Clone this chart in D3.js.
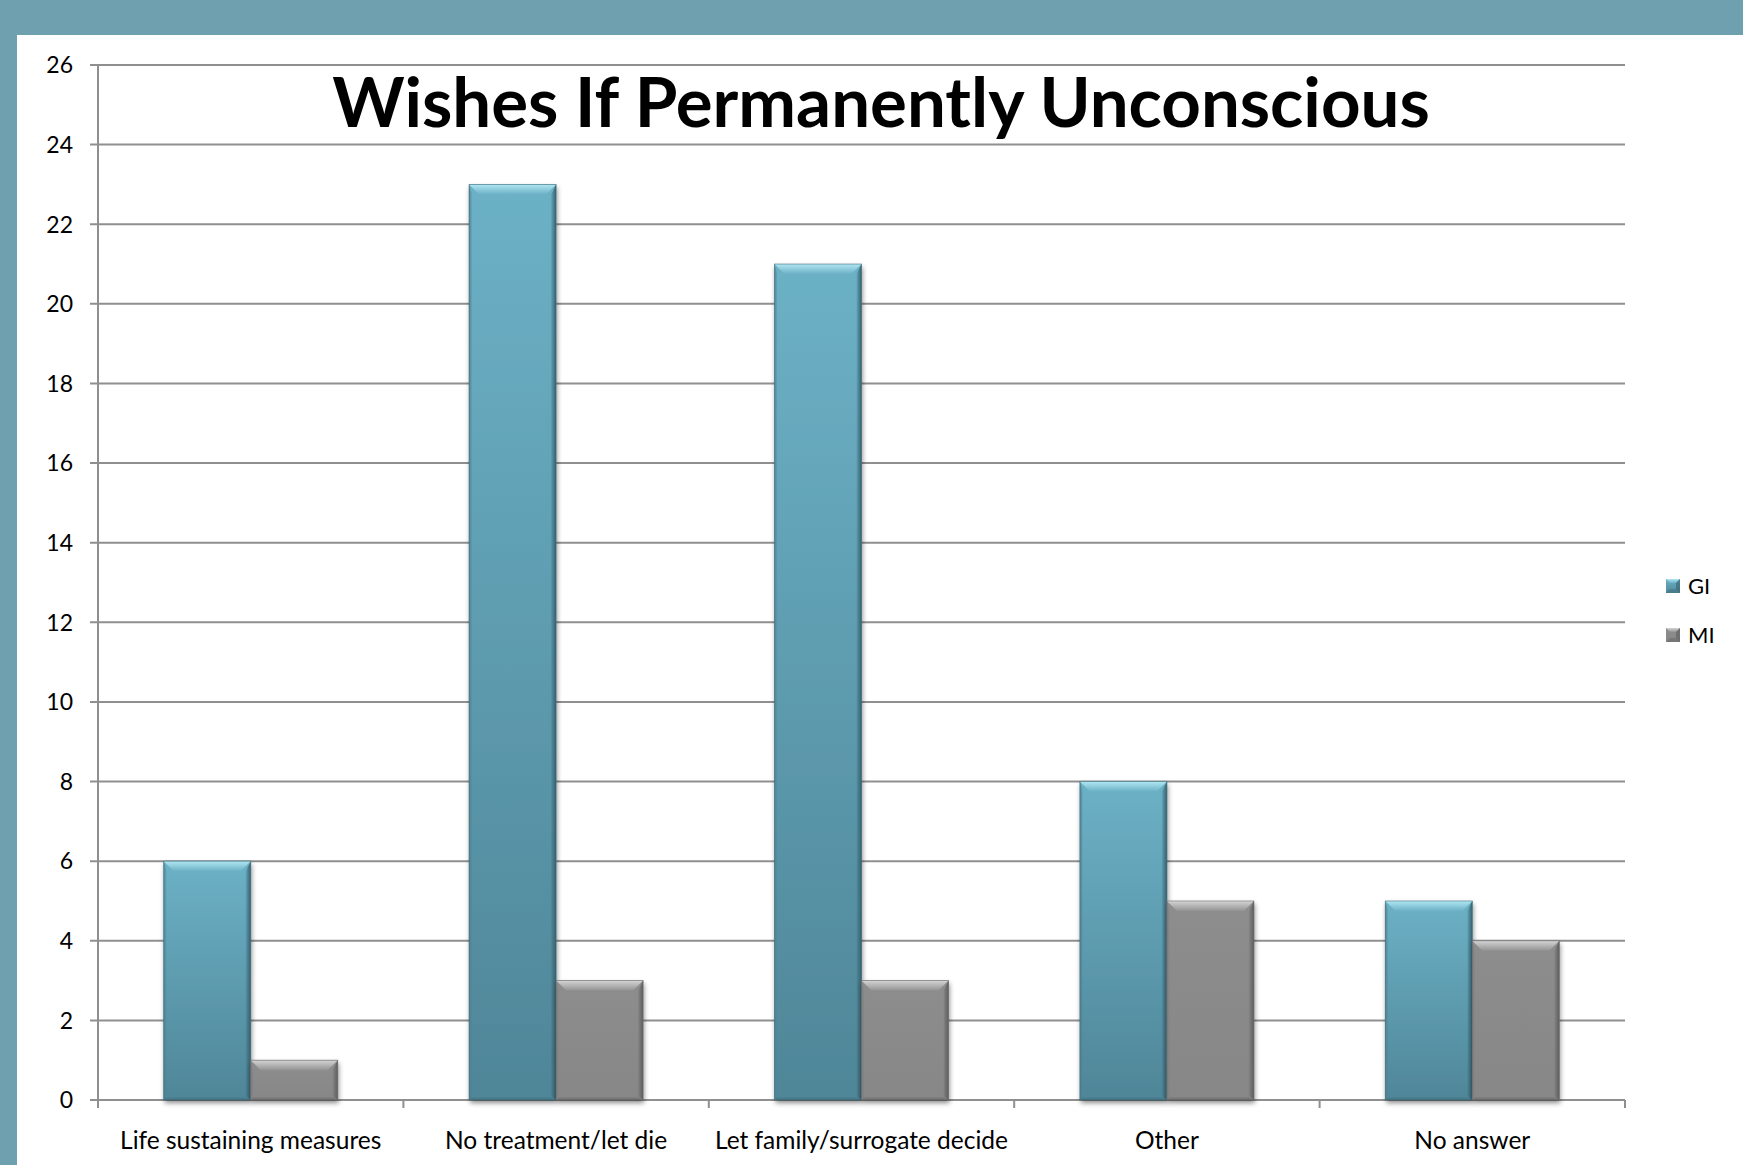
<!DOCTYPE html>
<html>
<head>
<meta charset="utf-8">
<script src="https://cdn.jsdelivr.net/npm/d3@7"></script>
<style>
  html, body { margin: 0; padding: 0; background: #6fa0af; }
  svg { display: block; }
  text { font-family: Lato, "Open Sans", sans-serif; fill: #000; }
</style>
</head>
<body>
<svg id="chart" width="1743" height="1165"></svg>
<script>
// Survey answers: "Wishes if permanently unconscious", counts per group
const categories = ["Life sustaining measures", "No treatment/let die", "Let family/surrogate decide", "Other", "No answer"];
const seriesNames = ["GI", "MI"];
const giValues = [6, 23, 21, 8, 5];
const miValues = [1, 3, 3, 5, 4];
const yTicks = [0, 2, 4, 6, 8, 10, 12, 14, 16, 18, 20, 22, 24, 26];
const titleText = "Wishes If Permanently Unconscious";

const W = 1743, H = 1165;
const svg = d3.select("#chart");

// slide frame: teal band on top and left, white panel
svg.append("rect").attr("width", W).attr("height", H).attr("fill", "#6fa0af");
svg.append("rect").attr("x", 17).attr("y", 35).attr("width", W - 17).attr("height", H - 35).attr("fill", "#ffffff");

const plot = { left: 98, right: 1625, top: 65, bottom: 1100 };

const x0 = d3.scaleBand().domain(categories).range([plot.left, plot.right]).paddingInner(0).paddingOuter(0);
const x1 = d3.scaleBand().domain(seriesNames).range([0, x0.bandwidth()]).paddingInner(0).paddingOuter(0.755);
const y = d3.scaleLinear().domain([0, 26]).range([plot.bottom, plot.top]);

const defs = svg.append("defs");

// drop shadow under the bars
const sh = defs.append("filter").attr("id", "shadow").attr("x", "-10%").attr("y", "-10%").attr("width", "130%").attr("height", "130%");
sh.append("feDropShadow").attr("dx", 1).attr("dy", 3).attr("stdDeviation", 2.5).attr("flood-color", "#000").attr("flood-opacity", 0.45);

function vGrad(id, stops) {
  const g = defs.append("linearGradient").attr("id", id).attr("x1", 0).attr("y1", 0).attr("x2", 0).attr("y2", 1);
  stops.forEach(s => g.append("stop").attr("offset", s[0]).attr("stop-color", s[1]).attr("stop-opacity", s[2] == null ? 1 : s[2]));
}
function hGrad(id, stops) {
  const g = defs.append("linearGradient").attr("id", id).attr("x1", 0).attr("y1", 0).attr("x2", 1).attr("y2", 0);
  stops.forEach(s => g.append("stop").attr("offset", s[0]).attr("stop-color", s[1]).attr("stop-opacity", s[2] == null ? 1 : s[2]));
}

const palette = {
  GI: { body: [["0%", "#6cb1c6"], ["100%", "#4f8698"]], top: [["0%", "#b0e6f2"], ["100%", "#6cb1c6"]], right: "#35606e", left: "#4c8091", bottom: "#3f6f7e" },
  MI: { body: [["0%", "#8d8d8d"], ["100%", "#878787"]], top: [["0%", "#d4d4d4"], ["100%", "#939393"]], right: "#5e5e5e", left: "#7d7d7d", bottom: "#666666" }
};
seriesNames.forEach(s => {
  const p = palette[s];
  vGrad("body-" + s, p.body);
  vGrad("top-" + s, p.top);
  hGrad("right-" + s, [["0%", p.right, 0.15], ["100%", p.right, 1]]);
  hGrad("left-" + s, [["0%", p.left, 0.9], ["100%", p.left, 0.1]]);
  vGrad("bottom-" + s, [["0%", p.bottom, 0.1], ["100%", p.bottom, 0.9]]);
});

// gridlines and y tick labels
const grid = svg.append("g");
grid.selectAll("line").data(yTicks).join("line")
  .attr("x1", plot.left - 8).attr("x2", plot.right)
  .attr("y1", d => y(d)).attr("y2", d => y(d))
  .attr("stroke", "#8f8f8f").attr("stroke-width", 2);

svg.append("g").selectAll("text").data(yTicks).join("text")
  .attr("x", 73).attr("y", d => y(d)).attr("dy", "0.36em")
  .attr("text-anchor", "end").style("font-size", "23px")
  .text(d => d);

// axes lines
svg.append("line").attr("x1", plot.left).attr("x2", plot.left).attr("y1", plot.top).attr("y2", plot.bottom + 8)
  .attr("stroke", "#8f8f8f").attr("stroke-width", 2);
svg.append("line").attr("x1", plot.left - 8).attr("x2", plot.right).attr("y1", plot.bottom).attr("y2", plot.bottom)
  .attr("stroke", "#8f8f8f").attr("stroke-width", 2);
const xTickPos = categories.map(c => x0(c)).concat([plot.right]);
svg.append("g").selectAll("line").data(xTickPos).join("line")
  .attr("x1", d => d).attr("x2", d => d).attr("y1", plot.bottom).attr("y2", plot.bottom + 8)
  .attr("stroke", "#8f8f8f").attr("stroke-width", 2);

// bars
const rows = [];
categories.forEach((c, i) => {
  rows.push({ cat: c, s: "GI", v: giValues[i] });
  rows.push({ cat: c, s: "MI", v: miValues[i] });
});

const B = 10; // bevel depth
const barG = svg.append("g");
rows.forEach(r => {
  const xa = x0(r.cat) + x1(r.s), xb = xa + x1.bandwidth();
  const ya = y(r.v), yb = y(0);
  const b = Math.min(B, (yb - ya) / 2);
  const g = barG.append("g");
  g.append("rect").attr("x", xa).attr("y", ya).attr("width", xb - xa).attr("height", yb - ya)
    .attr("fill", "url(#body-" + r.s + ")").attr("filter", "url(#shadow)");
  const poly = pts => pts.map(p => p.join(",")).join(" ");
  g.append("polygon").attr("points", poly([[xa, ya], [xb, ya], [xb - b, ya + b], [xa + b, ya + b]])).attr("fill", "url(#top-" + r.s + ")");
  g.append("polygon").attr("points", poly([[xb, ya], [xb, yb], [xb - 5, yb - 4], [xb - 5, ya + b]])).attr("fill", "url(#right-" + r.s + ")");
  g.append("polygon").attr("points", poly([[xa, ya], [xa + 3, ya + b], [xa + 3, yb - 3], [xa, yb]])).attr("fill", "url(#left-" + r.s + ")");
  g.append("polygon").attr("points", poly([[xa, yb], [xa + 3, yb - 3], [xb - 5, yb - 3], [xb, yb]])).attr("fill", "url(#bottom-" + r.s + ")");
  g.append("rect").attr("x", xa).attr("y", ya).attr("width", xb - xa).attr("height", yb - ya)
    .attr("fill", "none").attr("stroke", r.s === "GI" ? "#3d6b79" : "#666").attr("stroke-width", 0.8).attr("stroke-opacity", 0.7);
});

// x category labels
svg.append("g").selectAll("text").data(categories).join("text")
  .attr("x", d => x0(d) + x0.bandwidth() / 2).attr("y", 1149)
  .attr("text-anchor", "middle").style("font-size", "24.5px")
  .text(d => d);

// title
svg.append("text").attr("x", 881).attr("y", 127).attr("text-anchor", "middle")
  .style("font-size", "69px").style("font-weight", 700)
  .text(titleText);

// legend
const legY = [586, 635];
seriesNames.forEach((s, i) => {
  const lg = svg.append("g").attr("transform", `translate(1666,${legY[i] - 7})`);
  lg.append("rect").attr("width", 14).attr("height", 14).attr("fill", "url(#body-" + s + ")");
  lg.append("polygon").attr("points", "0,0 14,0 10,4 4,4").attr("fill", "url(#top-" + s + ")");
  lg.append("polygon").attr("points", "14,0 14,14 10,10 10,4").attr("fill", palette[s].right).attr("opacity", 0.6);
  lg.append("polygon").attr("points", "0,14 14,14 10,10 4,10").attr("fill", palette[s].bottom).attr("opacity", 0.5);
  svg.append("text").attr("x", 1688).attr("y", legY[i]).attr("dy", "0.36em").style("font-size", "22px").text(s);
});
</script>
</body>
</html>
